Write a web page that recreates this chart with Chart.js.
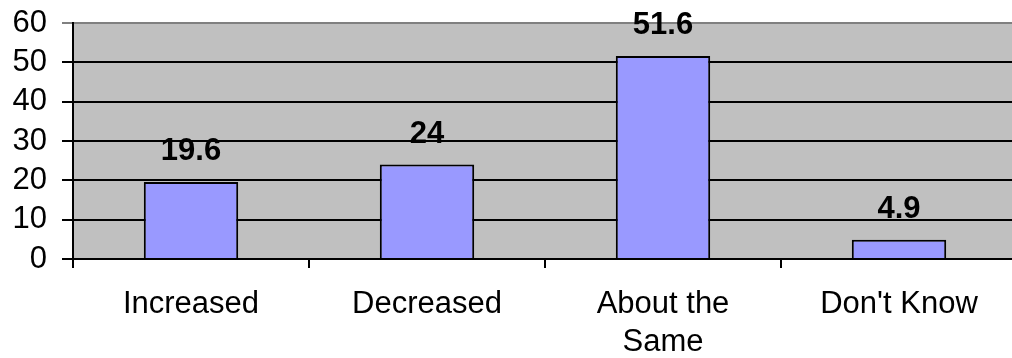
<!DOCTYPE html>
<html>
<head>
<meta charset="utf-8">
<script src="https://cdn.jsdelivr.net/npm/chart.js@4.4.1/dist/chart.umd.min.js"></script>
<style>
  html, body { margin: 0; padding: 0; background: #fff; overflow: hidden; }
  #wrap { width: 1020px; height: 358px; }
</style>
</head>
<body>
<div id="wrap"><canvas id="chart" width="1020" height="358"></canvas></div>
<script>
// Data
const categories = ['Increased', 'Decreased', ['About the', 'Same'], "Don't Know"];
const values = [19.6, 24, 51.6, 4.9];
const yTicks = [0, 10, 20, 30, 40, 50, 60];

const FONT = '"Liberation Sans", Arial, sans-serif';

// gray plot background
const plotBg = {
    id: 'plotBg',
    beforeDraw(chart) {
        const { ctx, chartArea: a } = chart;
        ctx.save();
        ctx.fillStyle = '#c0c0c0';
        ctx.fillRect(a.left, a.top, a.right - a.left, a.bottom - a.top);
        ctx.restore();
    }
};

// bold value labels above bars
const valueLabels = {
    id: 'valueLabels',
    afterDatasetsDraw(chart) {
        const ctx = chart.ctx;
        const meta = chart.getDatasetMeta(0);
        ctx.save();
        ctx.font = 'bold 31px ' + FONT;
        ctx.fillStyle = '#000';
        ctx.textAlign = 'center';
        ctx.textBaseline = 'alphabetic';
        meta.data.forEach((bar, i) => {
            ctx.fillText(String(values[i]), bar.x, bar.y - 22);
        });
        ctx.restore();
    }
};

const noPad = s => { s.paddingTop = 0; s.paddingBottom = 0; s.paddingLeft = 0; s.paddingRight = 0; };

new Chart(document.getElementById('chart'), {
    type: 'bar',
    data: {
        labels: categories,
        datasets: [{
            data: values,
            backgroundColor: '#9999ff',
            borderColor: '#000',
            borderWidth: 2,
            barPercentage: 0.4,
            categoryPercentage: 1
        }]
    },
    options: {
        responsive: false,
        animation: false,
        layout: { padding: { top: 23, right: 3, left: 0, bottom: 0 } },
        plugins: { legend: { display: false }, tooltip: { enabled: false } },
        scales: {
            x: {
                afterFit: s => { s.height = 99; noPad(s); },
                grid: { offset: true, drawOnChartArea: false, drawTicks: true, tickLength: 9, color: '#000', lineWidth: 2 },
                border: { color: '#000', width: 2 },
                ticks: { color: '#000', font: { family: FONT, size: 31, lineHeight: 1.23 }, padding: 17, maxRotation: 0, autoSkip: false }
            },
            y: {
                min: 0,
                max: 60,
                afterFit: s => { s.width = 73; noPad(s); },
                afterBuildTicks: s => { s.ticks = yTicks.map(v => ({ value: v })); },
                grid: {
                    color: c => c.tick && c.tick.value === 60 ? '#808080' : '#000',
                    lineWidth: 2,
                    tickLength: 11
                },
                border: { color: '#000', width: 2 },
                ticks: { color: '#000', font: { family: FONT, size: 31, lineHeight: 1 }, padding: 15, autoSkip: false }
            }
        }
    },
    plugins: [plotBg, valueLabels]
});
</script>
</body>
</html>
